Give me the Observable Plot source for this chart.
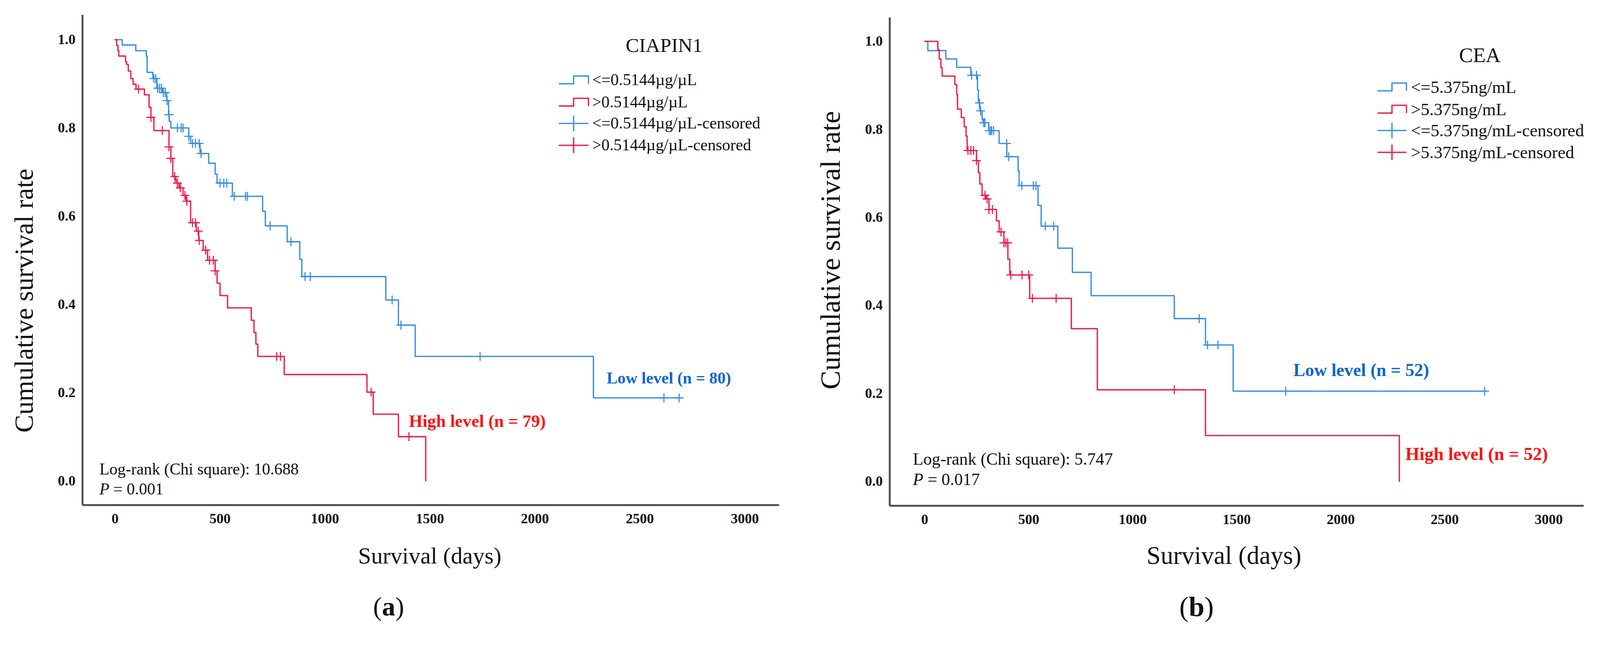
<!DOCTYPE html>
<html>
<head>
<meta charset="utf-8">
<script src="https://cdn.jsdelivr.net/npm/d3@7"></script>
<script src="https://cdn.jsdelivr.net/npm/@observablehq/plot@0.6"></script>
<style>
  html, body { margin: 0; padding: 0; background: #fff; overflow: hidden; }
  #root { position: relative; width: 4315px; height: 1708px; overflow: hidden; font-family: "Liberation Serif", serif; color: #111; transform-origin: 0 0; }
  .abs { position: absolute; white-space: nowrap; line-height: 1; }
  .kmplot { position: absolute; top: 0; max-width: none !important; }
  .kmplot [aria-label$="tick label"] text, .kmplot [aria-label$="tick label"] { font-weight: 700; }
</style>
</head>
<body>
<div id="root"></div>
<script>
// ---------------- DATA ----------------
const xTicks = [0, 500, 1000, 1500, 2000, 2500, 3000];
const yTicks = [0.0, 0.2, 0.4, 0.6, 0.8, 1.0];

// (a) CIAPIN1 — low level (<=0.5144µg/µL, n = 80)
const ciapinLowDays = [0, 34, 99, 149, 153, 180, 199, 225, 246, 255, 258, 266, 351, 360, 405, 446, 477, 486, 559, 703, 716, 820, 880, 890, 1290, 1350, 1430, 2279, 2700];
const ciapinLowSurv = [1.0, 0.988, 0.975, 0.963, 0.926, 0.912, 0.890, 0.880, 0.862, 0.830, 0.815, 0.800, 0.781, 0.765, 0.742, 0.720, 0.695, 0.675, 0.645, 0.611, 0.578, 0.542, 0.502, 0.463, 0.410, 0.353, 0.282, 0.188, 0.188];
const ciapinLowCensored = [185, 194, 203, 212, 221, 230, 239, 248, 257, 297, 315, 324, 351, 369, 383, 401, 410, 500, 518, 532, 568, 622, 631, 739, 838, 905, 930, 1320, 1362, 1739, 2615, 2687];

// (a) CIAPIN1 — high level (>0.5144µg/µL, n = 79)
const ciapinHighDays = [0, 8, 14, 18, 50, 55, 63, 75, 86, 100, 140, 162, 171, 185, 257, 266, 275, 290, 305, 324, 338, 360, 387, 399, 420, 441, 477, 486, 500, 536, 649, 662, 671, 680, 806, 1200, 1230, 1350, 1480];
const ciapinHighSurv = [1.0, 0.987, 0.975, 0.963, 0.950, 0.944, 0.929, 0.912, 0.899, 0.888, 0.875, 0.847, 0.824, 0.794, 0.757, 0.731, 0.690, 0.675, 0.664, 0.647, 0.634, 0.585, 0.566, 0.545, 0.523, 0.500, 0.476, 0.448, 0.420, 0.392, 0.364, 0.336, 0.310, 0.282, 0.241, 0.201, 0.151, 0.100, 0.0];
const ciapinHighCensored = [112, 171, 225, 257, 266, 284, 297, 311, 333, 342, 369, 383, 396, 401, 432, 450, 468, 477, 770, 788, 1220, 1400];

// (b) CEA — low level (<=5.375ng/mL, n = 52)
const ceaLowDays = [0, 15, 102, 154, 222, 254, 258, 265, 276, 280, 308, 358, 395, 449, 454, 545, 560, 640, 710, 800, 1200, 1350, 1483, 2700];
const ceaLowSurv = [1.0, 0.979, 0.960, 0.941, 0.923, 0.890, 0.860, 0.842, 0.823, 0.815, 0.797, 0.768, 0.738, 0.706, 0.672, 0.627, 0.580, 0.530, 0.475, 0.422, 0.370, 0.310, 0.205, 0.205];
const ceaLowCensored = [226, 249, 263, 269, 284, 290, 310, 317, 322, 331, 394, 404, 467, 522, 535, 580, 620, 1320, 1360, 1410, 1736, 2692];

// (b) CEA — high level (>5.375ng/mL, n = 52)
const ceaHighDays = [0, 63, 70, 78, 84, 145, 154, 158, 176, 190, 199, 204, 249, 258, 265, 276, 295, 309, 345, 358, 381, 400, 409, 505, 705, 830, 1350, 2282];
const ceaHighSurv = [1.0, 0.981, 0.960, 0.940, 0.921, 0.902, 0.879, 0.846, 0.827, 0.806, 0.785, 0.752, 0.729, 0.702, 0.676, 0.650, 0.642, 0.618, 0.592, 0.567, 0.542, 0.505, 0.469, 0.416, 0.347, 0.208, 0.104, 0.0];
const ceaHighCensored = [208, 222, 235, 249, 290, 300, 309, 326, 367, 381, 390, 399, 414, 468, 500, 518, 632, 1200];

const legendA = ["<=0.5144µg/µL", ">0.5144µg/µL", "<=0.5144µg/µL-censored", ">0.5144µg/µL-censored"];
const legendB = ["<=5.375ng/mL", ">5.375ng/mL", "<=5.375ng/mL-censored", ">5.375ng/mL-censored"];

// ---------------- STYLE ----------------
const BLUE = "#3a8fdf";
const RED = "#ee1c48";
const BLUE_TXT = "#0e66c6";
const RED_TXT = "#ff1010";
const AXIS = "#4a4a4a";

const root = document.getElementById("root");

// fit the 4315×1708 layout into the actual viewport
(function fit() {
  const s = Math.min(window.innerWidth / 4315, window.innerHeight / 1708);
  if (s > 0 && Math.abs(s - 1) > 0.001) root.style.transform = `scale(${s})`;
})();

function stepAt(days, surv, t) {
  let s = surv[0];
  for (let i = 0; i < days.length; i++) if (days[i] <= t) s = surv[i];
  return s;
}
function series(days, surv) { return days.map((d, i) => ({d, s: surv[i]})); }
function censors(days, surv, cens) { return cens.map(t => ({d: t, s: stepAt(days, surv, t)})); }

const crossSymbol = {
  draw(context, size) {
    const r = Math.sqrt(size / Math.PI);
    context.moveTo(-r, 0); context.lineTo(r, 0);
    context.moveTo(0, -r); context.lineTo(0, r);
  }
};

function kmPanel(cfg) {
  const low = series(cfg.lowDays, cfg.lowSurv);
  const high = series(cfg.highDays, cfg.highSurv);
  const lowC = censors(cfg.lowDays, cfg.lowSurv, cfg.lowCens);
  const highC = censors(cfg.highDays, cfg.highSurv, cfg.highCens);
  const chart = Plot.plot({
    width: cfg.width, height: cfg.height,
    marginLeft: cfg.ml, marginRight: cfg.mr, marginTop: cfg.mt, marginBottom: cfg.mb,
    style: {fontFamily: "'Liberation Serif', serif", background: "transparent", overflow: "visible", color: "#111"},
    x: {domain: cfg.xDomain},
    y: {domain: cfg.yDomain},
    marks: [
      Plot.axisX({ticks: xTicks, tickSize: 0, tickPadding: 22, fontSize: 38, fontWeight: "bold", tickFormat: d => String(d), label: null}),
      Plot.axisY({ticks: yTicks, tickSize: 0, tickPadding: 19, fontSize: 38, fontWeight: "bold", tickFormat: d3.format(".1f"), label: null}),
      Plot.line(low, {x: "d", y: "s", curve: "step-after", stroke: BLUE, strokeWidth: 3.5}),
      Plot.line(high, {x: "d", y: "s", curve: "step-after", stroke: RED, strokeWidth: 3.5}),
      Plot.dot(lowC, {x: "d", y: "s", symbol: crossSymbol, r: 12, stroke: BLUE, strokeWidth: 3, fill: "none"}),
      Plot.dot(highC, {x: "d", y: "s", symbol: crossSymbol, r: 12, stroke: RED, strokeWidth: 3, fill: "none"}),
      Plot.ruleY([cfg.yDomain[0]], {stroke: AXIS, strokeWidth: 5}),
      Plot.ruleX([cfg.xDomain[0]], {stroke: AXIS, strokeWidth: 5})
    ]
  });
  chart.classList.add("kmplot");
  chart.style.left = cfg.left + "px";
  root.appendChild(chart);
}

function txt(html, x, y, opts = {}) {
  const el = document.createElement("div");
  el.className = "abs";
  el.innerHTML = html;
  el.style.left = x + "px";
  el.style.top = y + "px";
  el.style.fontSize = (opts.size || 44) + "px";
  if (opts.bold) el.style.fontWeight = "700";
  if (opts.color) el.style.color = opts.color;
  const anchor = opts.anchor || "middle";
  let tr = anchor === "start" ? "translate(0,-50%)" : "translate(-50%,-50%)";
  if (opts.rotate) tr += ` rotate(${opts.rotate}deg)`;
  el.style.transform = tr;
  root.appendChild(el);
  return el;
}

function legend(labels, cfg) {
  const colors = [BLUE, RED, BLUE, RED];
  labels.forEach((lab, i) => {
    const cy = cfg.rows[i];
    const w = cfg.sw;
    const svg = document.createElementNS("http://www.w3.org/2000/svg", "svg");
    svg.setAttribute("width", w + 6);
    svg.setAttribute("height", 50);
    svg.style.position = "absolute";
    svg.style.left = (cfg.swx - 3) + "px";
    svg.style.top = (cy - 25) + "px";
    const p = document.createElementNS("http://www.w3.org/2000/svg", "path");
    if (i < 2) {
      p.setAttribute("d", `M3,35 H${3 + w * 0.5} V14 H${3 + w} V35`);
    } else {
      p.setAttribute("d", `M3,25 H${3 + w} M${3 + w * 0.5},4 V46`);
    }
    p.setAttribute("fill", "none");
    p.setAttribute("stroke", colors[i]);
    p.setAttribute("stroke-width", 3.5);
    svg.appendChild(p);
    root.appendChild(svg);
    txt(lab, cfg.tx, cy, {size: cfg.size, anchor: "start"});
  });
}

// ---------------- PANEL (a) ----------------
kmPanel({
  left: 0, width: 2157, height: 1460, ml: 222, mr: 56, mt: 40, mb: 98,
  xDomain: [-155, 3164], yDomain: [-0.055, 1.056],
  lowDays: ciapinLowDays, lowSurv: ciapinLowSurv, lowCens: ciapinLowCensored,
  highDays: ciapinHighDays, highSurv: ciapinHighSurv, highCens: ciapinHighCensored
});
txt("Cumulative survival rate", 65, 811, {size: 72, rotate: -90});
txt("Survival (days)", 1159, 1500, {size: 63});
txt("(<b>a</b>)", 1048, 1636, {size: 72});
txt("CIAPIN1", 1791, 122, {size: 54});
legend(legendA, {rows: [216, 276, 333, 392], swx: 1507, sw: 80, tx: 1597, size: 44});
txt("Low level (n = 80)", 1636, 1020, {size: 44, bold: true, color: BLUE_TXT, anchor: "start"});
txt("High level (n = 79)", 1103, 1136, {size: 47, bold: true, color: RED_TXT, anchor: "start"});
txt("Log-rank (Chi square): 10.688", 268, 1266, {size: 44, anchor: "start"});
txt("<i>P</i> = 0.001", 268, 1320, {size: 44, anchor: "start"});

// ---------------- PANEL (b) ----------------
kmPanel({
  left: 2157, width: 2158, height: 1460, ml: 242, mr: 44, mt: 47, mb: 96,
  xDomain: [-168, 3169], yDomain: [-0.0556, 1.054],
  lowDays: ceaLowDays, lowSurv: ceaLowSurv, lowCens: ceaLowCensored,
  highDays: ceaHighDays, highSurv: ceaHighSurv, highCens: ceaHighCensored
});
txt("Cumulative survival rate", 2239, 675, {size: 76, rotate: -90});
txt("Survival (days)", 3301, 1498, {size: 68});
txt("(<b>b</b>)", 3227, 1636, {size: 76});
txt("CEA", 3991, 149, {size: 56});
legend(legendB, {rows: [235, 295, 352, 411], swx: 3715, sw: 78, tx: 3805, size: 47});
txt("Low level (n = 52)", 3488, 998, {size: 48, bold: true, color: BLUE_TXT, anchor: "start"});
txt("High level (n = 52)", 3790, 1225, {size: 49, bold: true, color: RED_TXT, anchor: "start"});
txt("Log-rank (Chi square): 5.747", 2462, 1239, {size: 46, anchor: "start"});
txt("<i>P</i> = 0.017", 2462, 1293, {size: 46, anchor: "start"});
</script>
</body>
</html>
